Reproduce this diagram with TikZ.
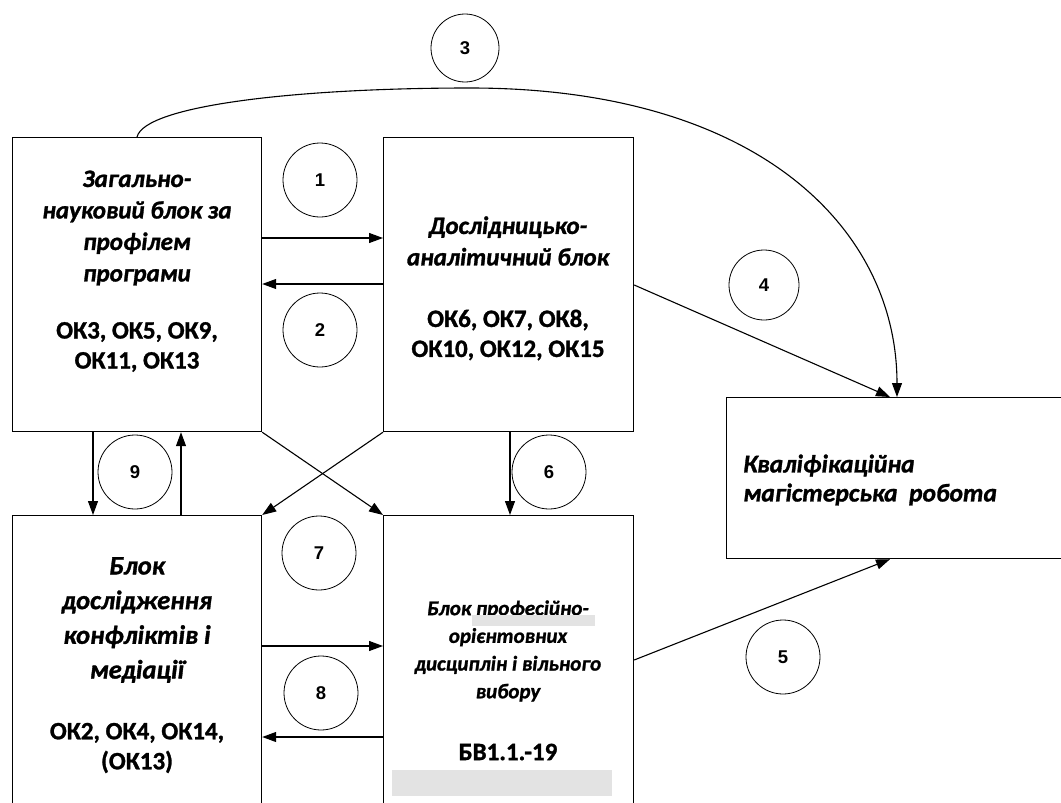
\documentclass[tikz,border=0pt]{standalone}
\usepackage{fontspec}
\setmainfont{Carlito}[BoldFeatures={FakeBold=1.2},BoldItalicFeatures={FakeBold=1.2}]
\newfontfamily\arialfont{Liberation Sans}
\usetikzlibrary{arrows.meta,calc}
\begin{document}
\begin{tikzpicture}[x=1pt,y=-1pt,
  box/.style={draw,line width=1.2pt,rectangle,inner sep=0pt,anchor=north west},
  num/.style={draw,circle,line width=0.8pt,minimum size=74pt,inner sep=0pt,font=\arialfont\bfseries\fontsize{18.5}{20}\selectfont},
  conn/.style={line width=1.1pt,-{Triangle[length=14pt,width=10pt]}},
  ttl/.style={align=center,inner sep=0pt,font=\bfseries\itshape\fontsize{25}{31.5}\selectfont},
  okt/.style={align=center,inner sep=0pt,font=\bfseries\fontsize{25}{30}\selectfont},
  graybar/.style={fill=black!11,draw=none}]
\useasboundingbox (0,0) rectangle (1061,803);
\clip (0,0) rectangle (1061,803);
% boxes
\node[box,minimum width=249pt,minimum height=294pt] (A) at (12,137) {};
\node[box,minimum width=250pt,minimum height=294pt] (B) at (383,137) {};
\node[box,minimum width=360pt,minimum height=161pt] (C) at (726,397) {};
\node[box,minimum width=249pt,minimum height=330pt] (D) at (12,515) {};
\node[box,minimum width=250pt,minimum height=330pt] (E) at (383,515) {};
% texts
\node[ttl] (tA) at (137,228) {Загально-\\науковий блок за\\профілем\\програми};
\node[okt] (oA) at (137,347) {ОК3, ОК5, ОК9,\\ОК11, ОК13};
\node[ttl] (tB) at (508,241) {Дослідницько-\\аналітичний блок};
\node[okt] (oB) at (508,335) {ОК6, ОК7, ОК8,\\ОК10, ОК12, ОК15};
\node[ttl,font=\bfseries\itshape\fontsize{26.5}{34.7}\selectfont] (tD) at (137,620) {Блок\\дослідження\\конфліктів і\\медіації};
\node[okt] (oD) at (137,748) {ОК2, ОК4, ОК14,\\(ОК13)};
\node[ttl,font=\bfseries\itshape\fontsize{21}{27.7}\selectfont] (tE) at (508,651) {Блок професійно-\\орієнтовних\\дисциплін і вільного\\вибору};
\node[okt] (oE) at (508,752) {БВ1.1.-19};
\node[ttl,align=left,anchor=west,font=\bfseries\itshape\fontsize{25.5}{29}\selectfont] (tC) at (743,480) {Кваліфікаційна\\магістерська\ \ робота};
% gray bars
\fill[graybar] (472,615) rectangle (595,626);
\fill[graybar] (392,770) rectangle (612,796);
% circles
\node[num] (n1) at (320,180) {1};
\node[num] (n2) at (320,330) {2};
\node[num,minimum size=68pt] (n3) at (465,48) {3};
\node[num,minimum size=70pt] (n4) at (764,285) {4};
\node[num] (n5) at (783,657) {5};
\node[num] (n6) at (549,472) {6};
\node[num] (n7) at (319,553) {7};
\node[num] (n8) at (321,693) {8};
\node[num] (n9) at (135,472) {9};
% connectors
\draw[conn] (A.east |- 0,238) -- (B.west |- 0,238);
\draw[conn] (B.west |- 0,284) -- (A.east |- 0,284);
\draw[conn] (A.north -| 137,0) .. controls (145,105) and (300,88) .. (470,88) .. controls (760,88) and (897,230) .. (C.north -| 897,0);
\draw[conn] (B.east |- 0,285) -- (C.north -| 890,0);
\draw[conn] (E.east |- 0,660) -- (C.south -| 890,0);
\draw[conn] (B.south -| 510,0) -- (E.north -| 510,0);
\draw[conn] (A.south east) -- (E.north west);
\draw[conn] (B.south west) -- (D.north east);
\draw[conn] (D.east |- 0,646) -- (E.west |- 0,646);
\draw[conn] (E.west |- 0,737) -- (D.east |- 0,737);
\draw[conn] (A.south -| 93,0) -- (D.north -| 93,0);
\draw[conn] (D.north -| 181,0) -- (A.south -| 181,0);
\end{tikzpicture}
\end{document}
